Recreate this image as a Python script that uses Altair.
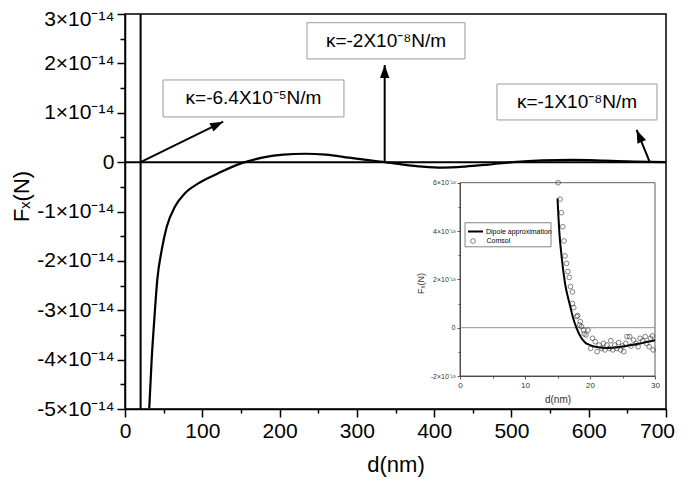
import altair as alt
import pandas as pd

# ---------------- main panel (F in units of 1e-14 N) ----------------
main_d = [31.4, 34.5, 37.9, 41.8, 47.5, 54.0, 64.7, 77.6, 94.8, 120.7, 150.9, 181.0,
          205.0, 233.0, 260.0, 290.0, 315.0, 336.0, 360.0, 385.0, 411.0, 440.0, 470.0,
          502.0, 540.0, 580.0, 620.0, 660.0, 700.0]
main_F = [-4.98, -4.0, -3.19, -2.38, -1.78, -1.31, -0.90, -0.63, -0.43, -0.225, -0.02, 0.10,
          0.15, 0.17, 0.15, 0.09, 0.04, 0.0, -0.05, -0.09, -0.11, -0.09, -0.05,
          0.0, 0.035, 0.045, 0.03, 0.01, 0.0]
pole_d = [20.2]
x_domain = [0, 700]
y_domain = [-5, 3]          # x 1e-14 N

ann_text = ["κ=-6.4X10⁻⁵N/m", "κ=-2X10⁻⁸N/m", "κ=-1X10⁻⁸N/m"]
ann_box_d0 = [49.2, 235.5, 481.3]
ann_box_d1 = [283.3, 439.9, 688.3]
ann_box_F0 = [0.915, 2.089, 0.854]
ann_box_F1 = [1.664, 2.824, 1.583]
arrow_d0 = [20.2, 336.0, 679.0]
arrow_F0 = [0.0, 0.0, 0.0]
arrow_d1 = [127.0, 336.0, 662.0]
arrow_F1 = [0.82, 1.967, 0.652]
arrow_angle = [63.8, 0.0, 337.0]

# ---------------- inset (F in units of 1e-13 N) ----------------
dip_d = [15.0, 15.3, 15.65, 16.15, 16.85, 17.4, 17.95, 18.6, 19.2, 20.0, 21.0, 22.6, 24.6, 27.2, 30.0]
dip_F = [5.35, 3.9, 2.9, 1.85, 1.0, 0.4, -0.03, -0.4, -0.6, -0.72, -0.8, -0.84, -0.8, -0.68, -0.52]
com_d = [15.1, 15.4, 15.6, 15.8, 16.0, 16.15, 16.4, 16.6, 16.8, 17.0, 17.3, 17.3, 17.5, 17.95,
         18.1, 18.5, 18.4, 18.7, 19.0, 19.1, 19.4, 19.7, 20.1, 20.4, 20.8, 21.1, 21.4, 21.8,
         22.05, 22.3, 22.6, 23.0, 23.2, 23.5, 23.8, 24.1, 24.4, 24.7, 25.0, 25.2, 25.5, 25.7,
         26.1, 26.3, 26.7, 27.1, 27.4, 27.7, 28.1, 28.5, 28.7, 29.1, 29.3, 29.6, 29.7]
com_F = [6.0, 5.32, 4.76, 4.18, 3.59, 2.97, 2.66, 2.32, 2.08, 1.70, 1.48, 1.0, 0.83, 0.46,
         0.50, 0.25, 0.11, 0.04, -0.10, -0.26, -0.30, -0.10, -0.86, -0.44, -0.58, -0.99, -0.72, -0.86,
         -0.65, -0.92, -0.72, -0.86, -0.54, -0.92, -0.72, -0.86, -0.62, -0.92, -0.76, -0.99, -0.65, -0.37,
         -0.37, -0.76, -0.51, -0.65, -0.79, -0.44, -0.54, -0.37, -0.65, -0.79, -0.44, -0.34, -0.92]
inset_x_domain = [0, 30]
inset_y_domain = [-2, 6]    # x 1e-13 N
legend_labels = ["Dipole approximation", "Comsol"]

FONT = "Liberation Sans"

# ---------------- tables ----------------
curve_df = pd.DataFrame({"d": main_d, "F": [v * 1e-14 for v in main_F]})
pole_df = pd.DataFrame({"d": pole_d, "y0": [y_domain[0] * 1e-14], "y1": [y_domain[1] * 1e-14]})
zero_df = pd.DataFrame({"d0": [x_domain[0]], "d1": [x_domain[1]], "F": [0.0]})
ann_df = pd.DataFrame({
    "text": ann_text,
    "bx0": ann_box_d0, "bx1": ann_box_d1,
    "by0": [v * 1e-14 for v in ann_box_F0], "by1": [v * 1e-14 for v in ann_box_F1],
    "ax0": arrow_d0, "ay0": [v * 1e-14 for v in arrow_F0],
    "ax1": arrow_d1, "ay1": [v * 1e-14 for v in arrow_F1],
    "angle": arrow_angle,
})
dip_df = pd.DataFrame({"d": dip_d, "F": [v * 1e-13 for v in dip_F], "series": legend_labels[0]})
com_df = pd.DataFrame({"d": com_d, "F": [v * 1e-13 for v in com_F], "series": legend_labels[1]})
frame_df = pd.DataFrame({"x0": [inset_x_domain[0]], "x1": [inset_x_domain[1]],
                         "y0": [inset_y_domain[0] * 1e-13], "y1": [inset_y_domain[1] * 1e-13]})
izero_df = pd.DataFrame({"x0": [inset_x_domain[0]], "x1": [inset_x_domain[1]], "F": [0.0]})

# ---------------- main scales / axes ----------------
xs = alt.Scale(domain=x_domain, nice=False, zero=False)
ys = alt.Scale(domain=[v * 1e-14 for v in y_domain], nice=False, zero=False)

x_axis = alt.Axis(
    values=list(range(0, 701, 50)),
    labelExpr="datum.value % 100 === 0 ? datum.label : ''",
    tickSize={"condition": {"test": "datum.value % 100 === 0", "value": 8}, "value": 4},
    labelOffset={"condition": {"test": "datum.value >= 700", "value": -9}, "value": 0},
    tickColor="black", tickWidth=1.5, domainColor="black", domainWidth=1.5,
    labelFontSize=21, labelColor="black", labelFont=FONT, labelPadding=3,
    labelFlush=False, labelOverlap=False, grid=False,
    title="d(nm)", titleFontSize=22, titleFontWeight="normal", titleColor="black",
    titleFont=FONT, titleBaseline="top", titleY=45,
)
y_vals = [round(-5 + 0.5 * k, 1) * 1e-14 for k in range(17)]
major_test = "abs(datum.value*1e14 - round(datum.value*1e14)) < 0.1"
y_axis = alt.Axis(
    values=y_vals,
    labelExpr="abs(datum.value*1e14 - round(datum.value*1e14)) > 0.1 ? '' : "
              "(round(datum.value*1e14) == 0 ? '0' : round(datum.value*1e14) + '×10⁻¹⁴')",
    tickSize={"condition": {"test": major_test, "value": 8}, "value": 5},
    labelOffset={"condition": {"test": "datum.value > 2.9e-14", "value": 5}, "value": 0},
    tickColor="black", tickWidth=1.5, domainColor="black", domainWidth=1.5,
    labelFontSize=21, labelColor="black", labelFont=FONT, labelPadding=3,
    labelOverlap=False, grid=False,
    title="Fₓ(N)", titleFontSize=22, titleFontWeight="normal", titleColor="black",
    titleFont=FONT, titleBaseline="middle", titleX=-104, titleY=182,
)


def mx(field):
    return alt.X(field, scale=xs, axis=x_axis)


def my(field):
    return alt.Y(field, scale=ys, axis=y_axis)


curve = alt.Chart(curve_df).mark_line(color="black", strokeWidth=2.2, clip=True,
                                      interpolate="monotone").encode(x=mx("d:Q"), y=my("F:Q"))
pole = alt.Chart(pole_df).mark_rule(color="black", strokeWidth=2).encode(
    x=mx("d:Q"), y=my("y0:Q"), y2="y1:Q")
zero = alt.Chart(zero_df).mark_rule(color="black", strokeWidth=2).encode(
    x=mx("d0:Q"), x2="d1:Q", y=my("F:Q"))
boxes = alt.Chart(ann_df).mark_rect(fill="white", stroke="#9a9a9a", strokeWidth=1).encode(
    x=mx("bx0:Q"), x2="bx1:Q", y=my("by0:Q"), y2="by1:Q")
texts = alt.Chart(ann_df).transform_calculate(
    cx="(datum.bx0 + datum.bx1) / 2", cy="(datum.by0 + datum.by1) / 2"
).mark_text(font=FONT, fontSize=19, color="black", align="center", baseline="middle").encode(
    x=mx("cx:Q"), y=my("cy:Q"), text="text:N")
arrows = alt.Chart(ann_df).mark_rule(color="black", strokeWidth=2).encode(
    x=mx("ax0:Q"), x2="ax1:Q", y=my("ay0:Q"), y2="ay1:Q")
heads = alt.Chart(ann_df).mark_point(
    shape="M0,0L-0.36,1L0.36,1Z", filled=True, color="black", size=676, opacity=1, strokeWidth=0
).encode(x=mx("ax1:Q"), y=my("ay1:Q"), angle=alt.Angle("angle:Q", scale=None))
main = alt.layer(curve, pole, zero, boxes, texts, arrows, heads)

# ---------------- inset ----------------
ixs = alt.Scale(domain=inset_x_domain, range=[335, 530], nice=False, zero=False)
iys = alt.Scale(domain=[v * 1e-13 for v in inset_y_domain], range=[362.0, 168.7], nice=False, zero=False)
GREY = "#333333"
ix_axis = alt.Axis(
    orient="bottom", offset=-33, values=list(range(0, 31, 5)),
    labelExpr="datum.value % 10 === 0 ? datum.label : ''",
    tickSize={"condition": {"test": "datum.value % 10 === 0", "value": 3}, "value": 2},
    tickColor=GREY, tickWidth=0.8, domainColor=GREY, domainWidth=0.8,
    labelFontSize=8, labelColor=GREY, labelFont=FONT, labelPadding=2,
    labelFlush=False, labelOverlap=False, grid=False,
    title="d(nm)", titleFontSize=10, titleFontWeight="normal", titleColor=GREY,
    titleFont=FONT, titleBaseline="middle", titleY=23,
)
iy_vals = [float(k) * 1e-13 for k in range(-2, 7)]
i_test = "abs(datum.value*1e13 - round(datum.value*1e13)) < 0.1 && round(datum.value*1e13) % 2 == 0"
iy_axis = alt.Axis(
    orient="left", offset=-335, values=iy_vals,
    labelExpr="(" + i_test + ") ? (round(datum.value*1e13) == 0 ? '0' : "
              "round(datum.value*1e13) + '×10⁻¹³') : ''",
    tickSize={"condition": {"test": i_test, "value": 3}, "value": 2},
    tickColor=GREY, tickWidth=0.8, domainColor=GREY, domainWidth=0.8,
    labelFontSize=7, labelColor=GREY, labelFont=FONT, labelPadding=2,
    labelOverlap=False, grid=False,
    title="Fₓ(N)", titleFontSize=9, titleFontWeight="normal", titleColor=GREY,
    titleFont=FONT, titleX=-35, titleY=269,
)


def ix(field):
    return alt.X(field, scale=ixs, axis=ix_axis)


def iy(field):
    return alt.Y(field, scale=iys, axis=iy_axis)


frame = alt.Chart(frame_df).mark_rect(filled=False, stroke=GREY, strokeWidth=0.8).encode(
    x=ix("x0:Q"), x2="x1:Q", y=iy("y0:Q"), y2="y1:Q")
izero = alt.Chart(izero_df).mark_rule(color="#777777", strokeWidth=0.8).encode(
    x=ix("x0:Q"), x2="x1:Q", y=iy("F:Q"))
dip = alt.Chart(dip_df).mark_line(strokeWidth=2, interpolate="monotone").encode(
    x=ix("d:Q"), y=iy("F:Q"),
    color=alt.Color("series:N", scale=alt.Scale(domain=[legend_labels[0]], range=["black"]),
                    legend=alt.Legend(orient="none", legendX=342, legendY=209, title=None,
                                      padding=0, labelFontSize=7, labelFont=FONT,
                                      labelColor="black", labelOffset=2,
                                      symbolSize=225, symbolStrokeWidth=2)),
)
com = alt.Chart(com_df).mark_point(filled=False, strokeWidth=0.8, size=22, color="#222222", clip=True).encode(
    x=ix("d:Q"), y=iy("F:Q"),
    shape=alt.Shape("series:N", scale=alt.Scale(domain=[legend_labels[1]], range=["circle"]),
                    legend=alt.Legend(orient="none", legendX=344.5, legendY=223.5, title=None,
                                      padding=0, labelFontSize=7, labelFont=FONT,
                                      labelColor="black", labelOffset=10,
                                      symbolSize=22, symbolStrokeWidth=0.8,
                                      symbolStrokeColor="#222222", symbolFillColor="transparent")),
)
leg_box = alt.Chart(pd.DataFrame({"x0": [0.77], "x1": [14.0], "y0": [4.342e-13], "y1": [3.347e-13]})
                    ).mark_rect(filled=False, stroke="#666666", strokeWidth=0.8).encode(
    x=ix("x0:Q"), x2="x1:Q", y=iy("y0:Q"), y2="y1:Q")
inset = alt.layer(frame, izero, dip, com, leg_box)

chart = alt.layer(main, inset).resolve_scale(
    x="independent", y="independent", color="independent", shape="independent"
).resolve_axis(x="independent", y="independent").resolve_legend(
    color="independent", shape="independent"
).properties(
    width=541, height=395,
    autosize=alt.AutoSizeParams(type="none"),
    padding={"left": 117, "top": 6, "right": 11, "bottom": 68},
).configure(font=FONT).configure_view(stroke="black", strokeWidth=1.5)

chart.save("out.html", embed_options={"renderer": "svg", "actions": False})
